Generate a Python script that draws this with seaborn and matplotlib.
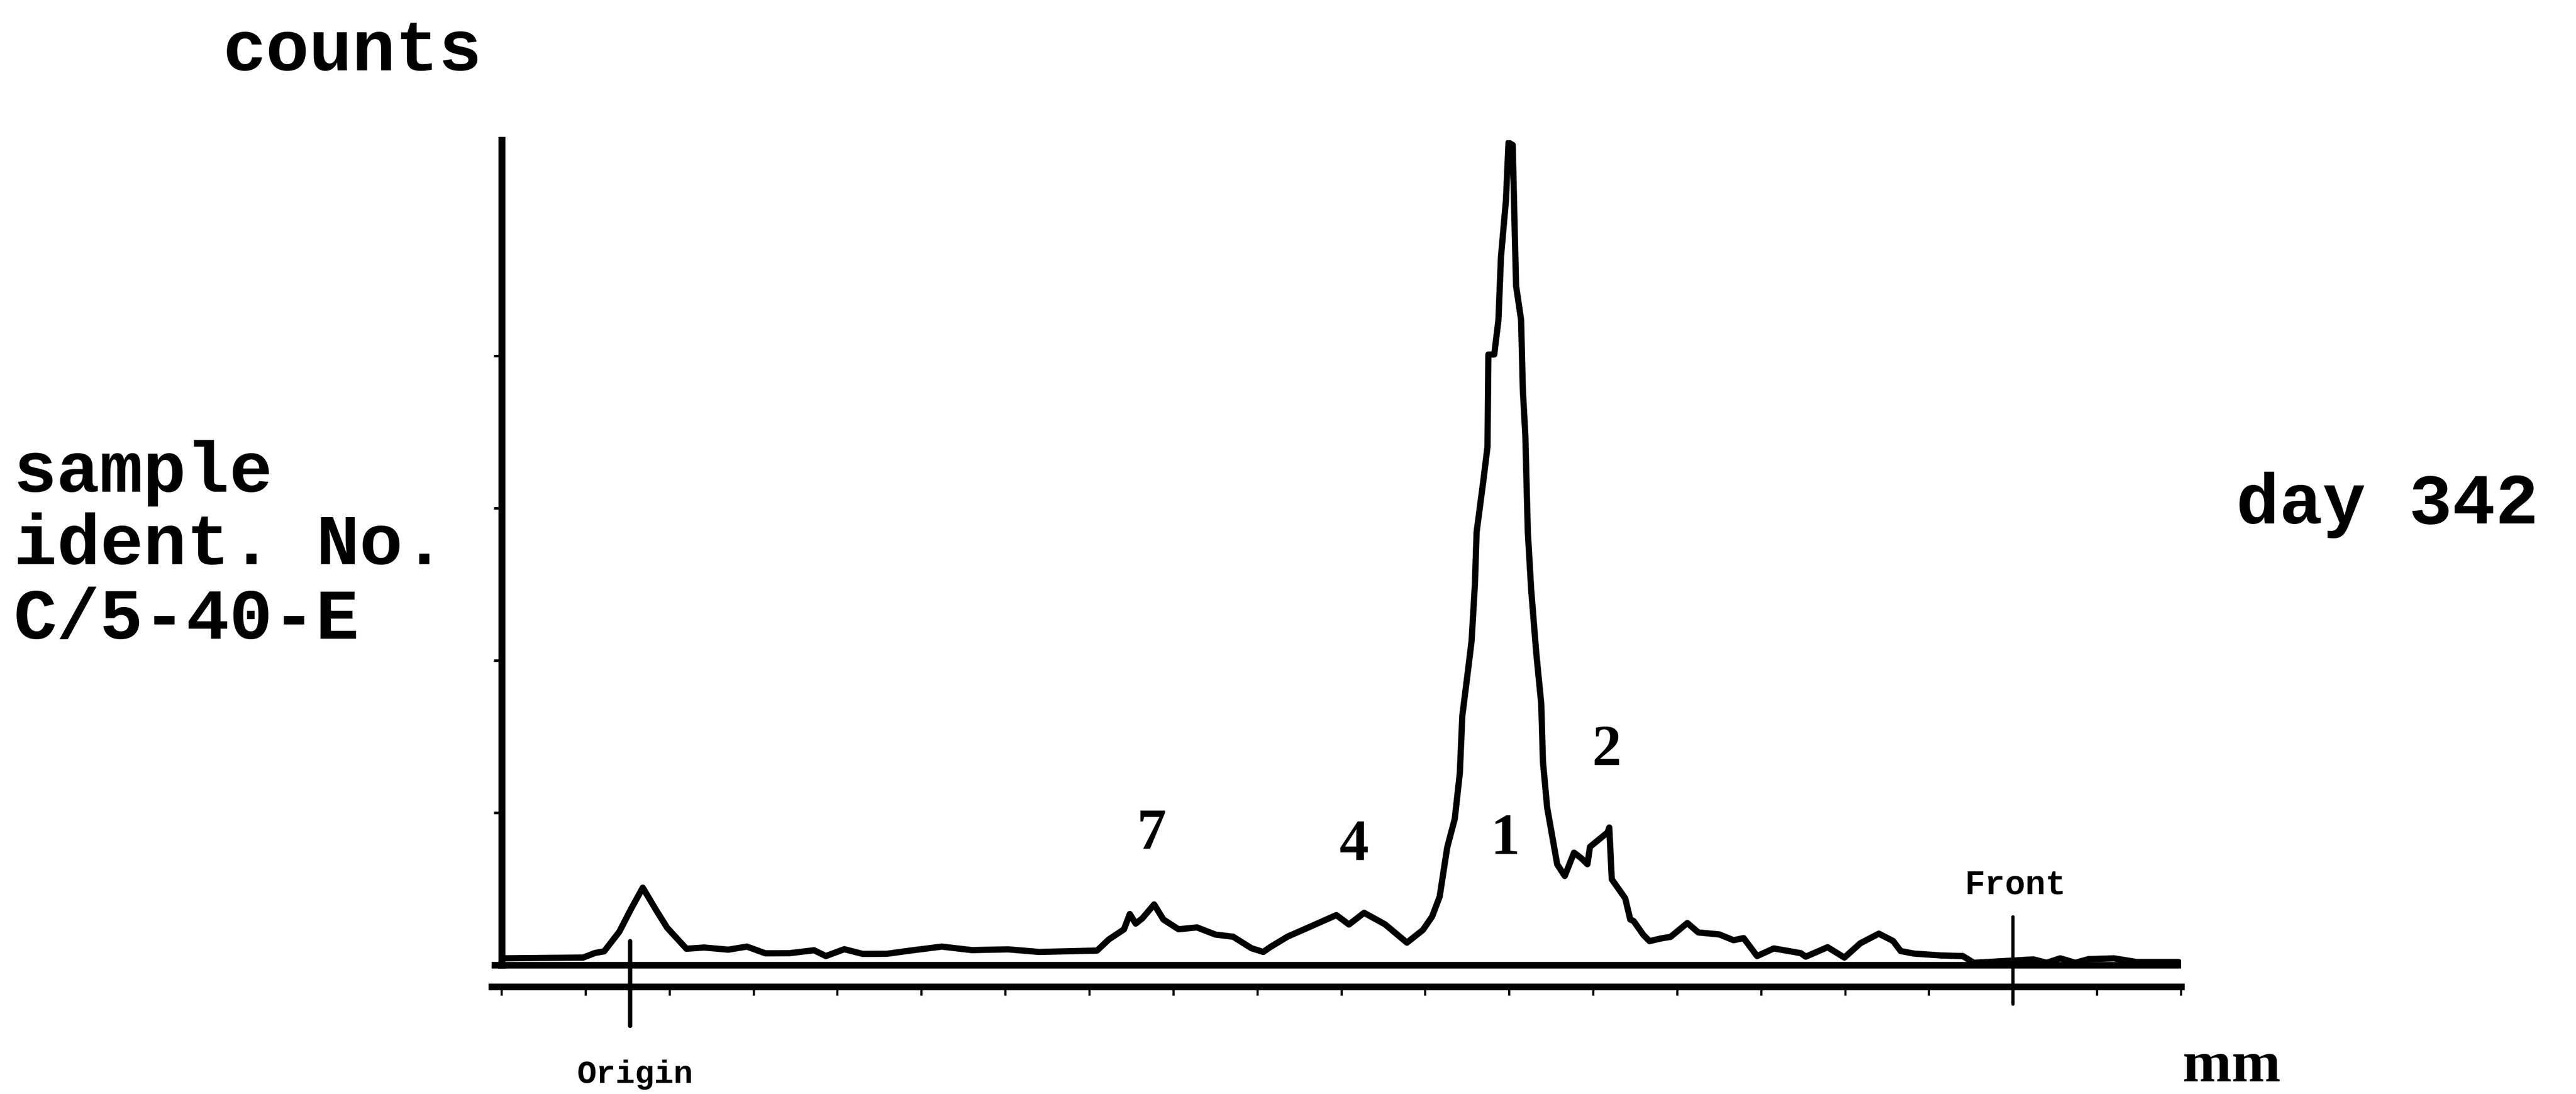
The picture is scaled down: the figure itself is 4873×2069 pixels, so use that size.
import matplotlib
matplotlib.use("Agg")
import matplotlib.pyplot as plt
import seaborn as sns
import pandas as pd

# ---------------- data ----------------
# distance along the TLC plate (mm) and radioactivity counts of the scan trace
distance_mm = [0.0, 3.8, 9.7, 11.1, 12.2, 14.0, 15.4, 16.8, 18.3, 19.7, 22.0, 24.1, 27.0,
               29.2, 31.4, 34.3, 37.2, 38.6, 40.8, 43.0, 45.9, 48.8, 52.4, 56.0, 60.3,
               64.0, 70.9, 72.3, 74.1, 74.8, 75.5, 76.3, 77.7, 78.8, 80.6, 82.8, 85.0,
               87.1, 89.3, 90.7, 91.5, 93.6, 95.8, 99.4, 100.9, 102.7, 105.2, 107.8,
               109.7, 110.8, 111.7, 112.6, 113.5, 114.1, 114.4, 115.0, 115.5, 115.9,
               116.1, 116.9, 117.4, 117.5, 118.2, 118.7, 119.0, 119.6, 119.9, 120.4,
               120.6, 120.8, 121.4, 121.6, 121.9, 122.2, 122.6, 123.2, 123.8, 124.0,
               124.5, 125.1, 125.7, 126.6, 127.7, 128.6, 129.3, 129.6, 131.7, 131.9,
               132.2, 133.8, 134.4, 134.8, 136.0, 136.7, 138.0, 139.2, 141.2, 142.5,
               145.0, 146.7, 147.9, 149.5, 151.5, 154.7, 155.3, 157.9, 159.9, 161.8,
               164.0, 165.7, 166.6, 168.2, 171.4, 174.0, 175.3, 178.3, 182.4, 184.0,
               185.6, 187.4, 189.0, 192.0, 194.7, 199.7]
counts = [44, 46, 49, 79, 90, 218, 368, 508, 369, 245, 107, 115, 101,
          121, 77, 78, 97, 59, 104, 73, 74, 96, 121, 98, 103,
          86, 95, 168, 234, 335, 272, 307, 398, 299, 235, 247, 200,
          186, 110, 86, 117, 187, 240, 328, 266, 343, 267, 147,
          230, 318, 449, 772, 960, 1259, 1637, 1901, 2126, 2501,
          2842, 3179, 3405, 4009, 4009, 4235, 4648, 5026, 5401, 5385,
          4913, 4461, 4236, 3785, 3482, 2843, 2465, 2052, 1715, 1336,
          1035, 848, 661, 585, 738, 700, 662, 776, 871, 903,
          563, 438, 299, 289, 195, 157, 174, 185, 276, 214,
          201, 163, 177, 59, 109, 78, 55, 117, 49, 143,
          206, 158, 92, 75, 63, 59, 15, 24, 37, 15,
          44, 15, 39, 44, 20, 20]

peak_labels = ["7", "4", "1", "2"]
peak_label_mm = [77.4, 101.5, 119.5, 131.6]
peak_label_counts = [764, 688, 729, 1313]

origin_mm = 15.3
front_mm = 180.0
x_ticks_mm = list(range(0, 201, 10))
y_ticks_counts = [1000, 2000, 3000, 4000]
y_top = 5417

# ---------------- figure ----------------
sns.set_theme(style="white")
plt.rcParams["font.family"] = ["Liberation Mono", "DejaVu Sans"]
plt.rcParams["text.color"] = "black"

W, H, DPI = 4873, 2069, 100
fig = plt.figure(figsize=(W / DPI, H / DPI), dpi=DPI, facecolor="white")
ax = fig.add_axes([930 / W, (H - 1866) / H, (4126 - 930) / W, (1866 - 265) / H])
ax.set_facecolor("white")

df = pd.DataFrame({"mm": distance_mm, "counts": counts})
sns.lineplot(data=df, x="mm", y="counts", ax=ax, color="black", linewidth=8.5,
             sort=False, estimator=None)

ax.set_xlim(-1.2, 200.0)
ax.set_ylim(-142, y_top)

# axis lines
for s in ["top", "right"]:
    ax.spines[s].set_visible(False)
ax.spines["left"].set_position(("data", 0))
ax.spines["left"].set_bounds(0, y_top)
ax.spines["left"].set_linewidth(9.5)
ax.spines["left"].set_color("black")
ax.spines["bottom"].set_linewidth(9)
ax.spines["bottom"].set_color("black")
ax.axhline(0, color="black", linewidth=9)

ax.set_xticks(x_ticks_mm)
ax.set_yticks(y_ticks_counts)
ax.tick_params(axis="x", direction="out", length=12, width=3, color="black",
               labelbottom=False, bottom=True)
ax.tick_params(axis="y", direction="out", length=11, width=3.5, color="black",
               labelleft=False, left=True)
ax.set_xlabel("")
ax.set_ylabel("")
ax.grid(False)

# origin and front markers
ax.plot([origin_mm, origin_mm], [156, -399], color="black", lw=6, clip_on=False,
        solid_capstyle="round")
ax.plot([front_mm, front_mm], [316, -257], color="black", lw=4.5, clip_on=False,
        solid_capstyle="round")

# peak labels
for lab, xm, yc in zip(peak_labels, peak_label_mm, peak_label_counts):
    ax.text(xm, yc, lab, ha="center", va="baseline", fontsize=80,
            fontweight="bold", family=["Liberation Serif", "DejaVu Serif"])

ax.text(origin_mm + 0.6, -774, "Origin", ha="center", va="baseline", fontsize=44,
        fontweight="bold", family=["Liberation Mono", "DejaVu Sans"])
ax.text(front_mm + 0.3, 469, "Front", ha="center", va="baseline", fontsize=46,
        fontweight="bold", family=["Liberation Mono", "DejaVu Sans"])
ax.text(206.0, -764, "mm", ha="center", va="baseline", fontsize=80,
        fontweight="bold", family=["Liberation Serif", "DejaVu Serif"])

# descriptive texts
mono = dict(fontsize=98, fontweight="bold", family=["Liberation Mono", "DejaVu Sans"],
            ha="left", va="baseline", color="black")
fig.text(422 / W, 1 - 133 / H, "counts", **mono)
fig.text(26 / W, 1 - 930 / H, "sample", **mono)
fig.text(26 / W, 1 - 1067 / H, "ident. No.", **mono)
fig.text(26 / W, 1 - 1208 / H, "C/5-40-E", **mono)
fig.text(4230 / W, 1 - 990 / H, "day 342", **mono)

fig.savefig("out.png", dpi=DPI, facecolor="white")
